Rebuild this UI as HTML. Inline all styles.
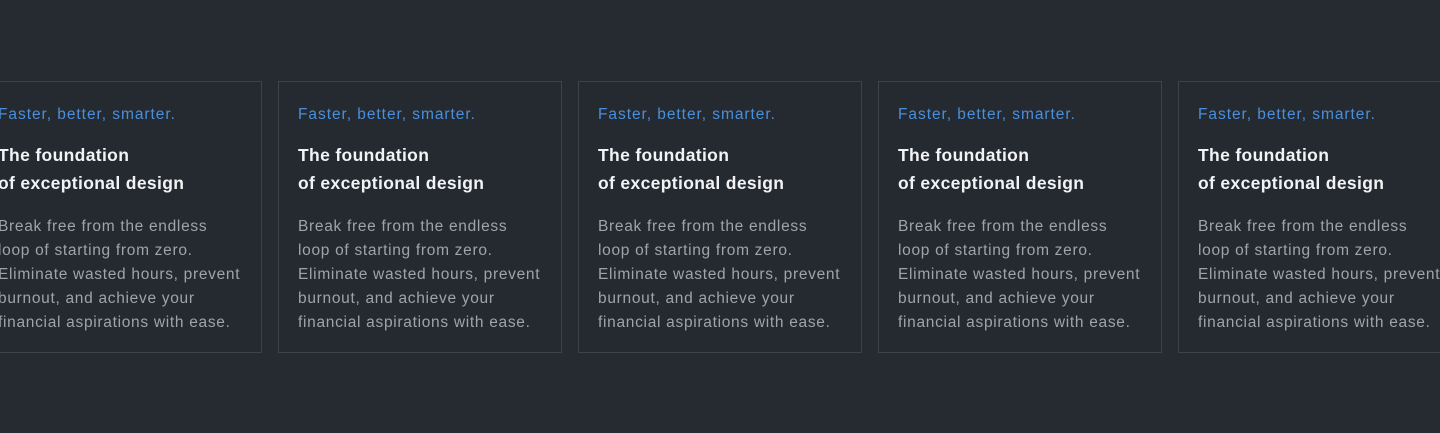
<!DOCTYPE html>
<html><head><style>
html,body{margin:0;padding:0;}
body{width:1440px;height:433px;background:#262b32;position:relative;overflow:hidden;font-family:"Liberation Sans",sans-serif;}
.c{position:absolute;top:81px;width:284px;height:272px;border:1px solid #3d434b;box-sizing:border-box;background:#252a31;}
.t{position:absolute;left:19px;top:24px;color:#4a8fdc;font-size:15.5px;letter-spacing:0.95px;white-space:nowrap;}
.h{position:absolute;left:19px;top:59px;color:#f2f3f5;font-size:17.5px;font-weight:bold;line-height:28px;letter-spacing:0.35px;white-space:nowrap;}
.b{position:absolute;left:19px;top:133px;color:#9fa4ab;font-size:15.5px;line-height:24px;letter-spacing:0.7px;white-space:nowrap;}
</style></head><body>
<div class="c" style="left:-22px"><div class="t">Faster, better, smarter.</div><div class="h">The foundation<br>of exceptional design</div><div class="b">Break free from the endless<br>loop of starting from zero.<br>Eliminate wasted hours, prevent<br>burnout, and achieve your<br>financial aspirations with ease.</div></div>
<div class="c" style="left:278px"><div class="t">Faster, better, smarter.</div><div class="h">The foundation<br>of exceptional design</div><div class="b">Break free from the endless<br>loop of starting from zero.<br>Eliminate wasted hours, prevent<br>burnout, and achieve your<br>financial aspirations with ease.</div></div>
<div class="c" style="left:578px"><div class="t">Faster, better, smarter.</div><div class="h">The foundation<br>of exceptional design</div><div class="b">Break free from the endless<br>loop of starting from zero.<br>Eliminate wasted hours, prevent<br>burnout, and achieve your<br>financial aspirations with ease.</div></div>
<div class="c" style="left:878px"><div class="t">Faster, better, smarter.</div><div class="h">The foundation<br>of exceptional design</div><div class="b">Break free from the endless<br>loop of starting from zero.<br>Eliminate wasted hours, prevent<br>burnout, and achieve your<br>financial aspirations with ease.</div></div>
<div class="c" style="left:1178px"><div class="t">Faster, better, smarter.</div><div class="h">The foundation<br>of exceptional design</div><div class="b">Break free from the endless<br>loop of starting from zero.<br>Eliminate wasted hours, prevent<br>burnout, and achieve your<br>financial aspirations with ease.</div></div>
</body></html>
